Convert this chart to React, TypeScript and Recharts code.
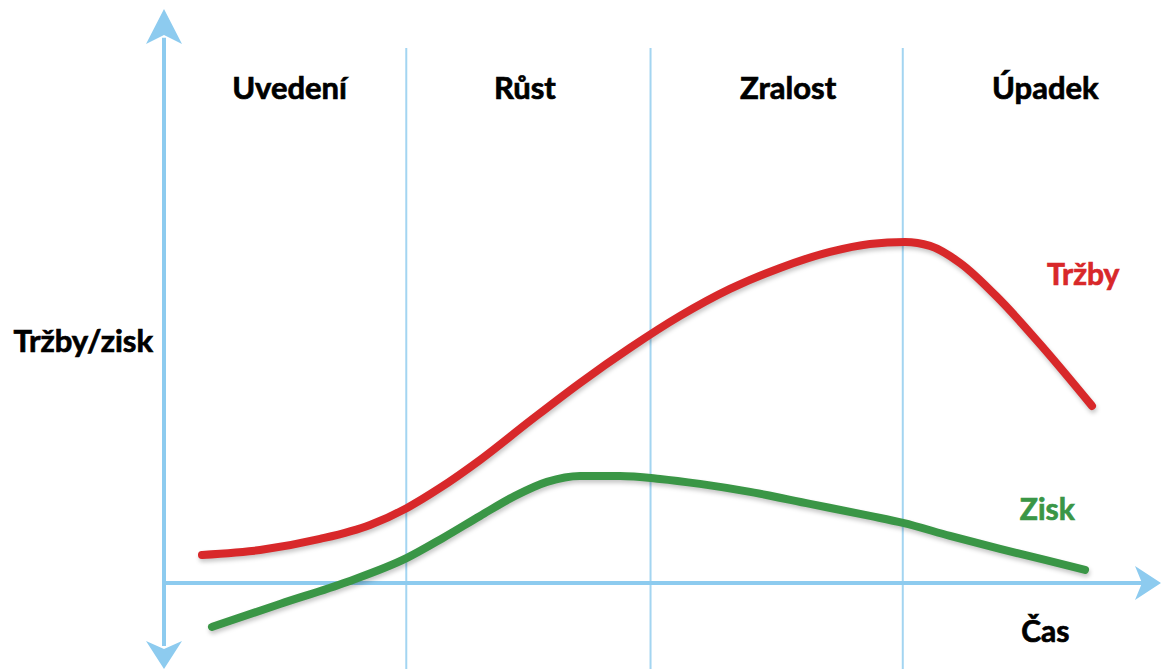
import React from 'react';
import { LineChart, Line, XAxis, YAxis, ReferenceLine, ReferenceDot } from 'recharts';

// Stages of the product life cycle (time axis 0..100)
const stageNames = ['Uvedení', 'Růst', 'Zralost', 'Úpadek'];
const stageBoundaries = [24.3, 48.8, 74.1];
const stageLabelX = [12.6, 36.2, 62.6, 88.4];

// Tržby (sales)
const salesTime = [3.81, 9.63, 15.65, 20.66, 24.37, 27.68, 31.7, 36.71, 41.73, 46.74, 51.76, 56.77, 61.79, 66.8, 70.81, 74.32, 76.83, 79.84, 83.85, 88.37, 93.08];
const salesValues = [4.88, 5.75, 7.67, 10.11, 13.07, 16.55, 21.43, 28.23, 34.85, 40.95, 46.52, 51.23, 54.89, 57.68, 59.07, 59.42, 58.72, 55.76, 49.31, 40.6, 30.84];

// Zisk (profit)
const profitTime = [4.81, 11.63, 18.35, 24.37, 27.98, 31.7, 35.21, 38.41, 41.73, 45.74, 49.75, 53.76, 58.78, 64.79, 70.81, 74.12, 78.84, 83.85, 88.37, 92.38];
const profitValues = [-7.67, -3.66, 0.17, 4.36, 7.84, 11.67, 15.16, 17.6, 18.64, 18.64, 18.12, 17.25, 15.86, 13.77, 11.67, 10.45, 8.19, 5.92, 4.01, 2.27];

const salesData = salesTime.map((t, i) => ({ t, v: salesValues[i] }));
const profitData = profitTime.map((t, i) => ({ t, v: profitValues[i] }));

const AXIS = '#8DCBEF';
const DIVIDER = '#A3D5F1';
const RED = '#D8282A';
const GREEN = '#3A9646';
const FONT = 'Lato, "Open Sans", sans-serif';

const textShape = (label: string, color: string, size: number) => (p: any) => (
  <text
    x={p.cx}
    y={p.cy}
    textAnchor="middle"
    fill={color}
    stroke={color}
    strokeWidth={0.7}
    fontSize={size}
    fontWeight={700}
    fontFamily={FONT}
  >
    {label}
  </text>
);

const arrowUp = (p: any) => (
  <polygon points={`${p.cx},${p.cy} ${p.cx + 18},${p.cy + 35} ${p.cx},${p.cy + 26} ${p.cx - 18},${p.cy + 35}`} fill={AXIS} />
);
const arrowDown = (p: any) => (
  <polygon points={`${p.cx},${p.cy} ${p.cx + 18},${p.cy - 28} ${p.cx},${p.cy - 20} ${p.cx - 18},${p.cy - 28}`} fill={AXIS} />
);
const arrowRight = (p: any) => (
  <polygon points={`${p.cx},${p.cy} ${p.cx - 26},${p.cy - 17} ${p.cx - 19},${p.cy} ${p.cx - 26},${p.cy + 17}`} fill={AXIS} />
);

export default function App() {
  return (
    <div style={{ position: 'absolute', left: 0, top: 0, background: '#fff' }}>
      <style>{`.recharts-line-curve { filter: drop-shadow(1px 3px 2px rgba(0,0,0,0.22)); }`}</style>
      <LineChart width={1161} height={669} margin={{ top: 9, right: 0, bottom: 0, left: 164 }}>
        <XAxis dataKey="t" type="number" domain={[0, 100]} hide allowDataOverflow />
        <YAxis type="number" domain={[-15, 100]} hide allowDataOverflow />
        {stageBoundaries.map((b) => (
          <ReferenceLine key={b} segment={[{ x: b, y: 93.2 }, { x: b, y: -15 }]} stroke={DIVIDER} strokeWidth={2} />
        ))}
        <ReferenceLine segment={[{ x: 0, y: 95 }, { x: 0, y: -11 }]} stroke={AXIS} strokeWidth={4} />
        <ReferenceLine segment={[{ x: 0, y: 0 }, { x: 98.5, y: 0 }]} stroke={AXIS} strokeWidth={4} />
        <ReferenceDot x={0} y={100} r={0} shape={arrowUp} ifOverflow="visible" />
        <ReferenceDot x={0} y={-15} r={0} shape={arrowDown} ifOverflow="visible" />
        <ReferenceDot x={100} y={0} r={0} shape={arrowRight} ifOverflow="visible" />
        <Line data={salesData} dataKey="v" type="monotone" stroke={RED} strokeWidth={8} strokeLinecap="round" dot={false} activeDot={false} isAnimationActive={false} />
        <Line data={profitData} dataKey="v" type="monotone" stroke={GREEN} strokeWidth={8} strokeLinecap="round" dot={false} activeDot={false} isAnimationActive={false} />
        {stageNames.map((n, i) => (
          <ReferenceDot key={n} x={stageLabelX[i]} y={84.3} r={0} shape={textShape(n, '#000', 31)} ifOverflow="visible" />
        ))}
        <ReferenceDot x={92.2} y={51.9} r={0} shape={textShape('Tržby', RED, 30)} ifOverflow="visible" />
        <ReferenceDot x={88.6} y={11.0} r={0} shape={textShape('Zisk', GREEN, 30)} ifOverflow="visible" />
        <ReferenceDot x={88.4} y={-10.3} r={0} shape={textShape('Čas', '#000', 30)} ifOverflow="visible" />
        <ReferenceDot x={-8.1} y={40.2} r={0} shape={textShape('Tržby/zisk', '#000', 31)} ifOverflow="visible" />
      </LineChart>
    </div>
  );
}
